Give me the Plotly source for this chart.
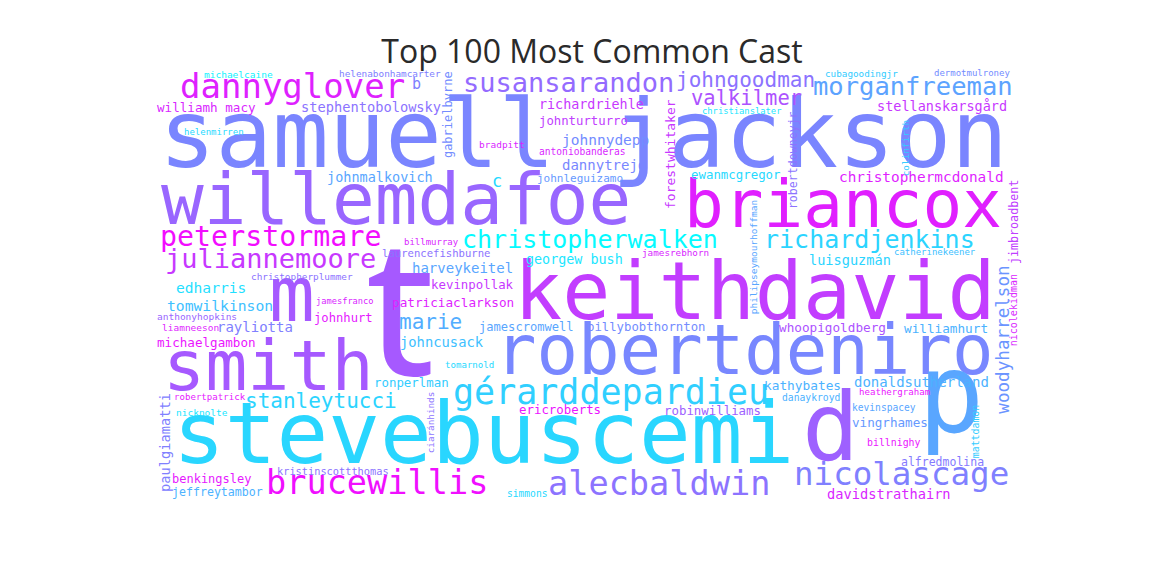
import plotly.graph_objects as go

# Top 100 cast names, as they appear in the word cloud
cast = [
    "samuell jackson", "willemdafoe", "briancox", "keithdavid", "robertdeniro",
    "stevebuscemi", "t", "m", "smith", "p", "d",
    "dannyglover", "susansarandon", "johngoodman", "morganfreeman", "valkilmer",
    "peterstormare", "juliannemoore", "christopherwalken", "richardjenkins",
    "gérarddepardieu", "brucewillis", "alecbaldwin", "nicolascage",
    "stanleytucci", "marie",
    "michaelcaine", "helenabonhamcarter", "cubagoodingjr", "dermotmulroney", "b",
    "williamh macy", "stephentobolowsky", "richardriehle", "johnturturro",
    "johnnydepp", "bradpitt", "antoniobanderas", "helenmirren", "dannytrejo",
    "johnmalkovich", "c", "johnleguizamo", "christianslater", "stellanskarsgård",
    "ewanmcgregor", "christophermcdonald", "billmurray", "laurencefishburne",
    "georgew bush", "jamesrebhorn", "luisguzmán", "catherinekeener",
    "harveykeitel", "christopherplummer", "edharris", "kevinpollak",
    "tomwilkinson", "jamesfranco", "patriciaclarkson", "anthonyhopkins",
    "liamneeson", "rayliotta", "johnhurt", "jamescromwell", "billybobthornton",
    "whoopigoldberg", "williamhurt", "michaelgambon", "johncusack",
    "ronperlman", "tomarnold", "kathybates", "donaldsutherland", "danaykroyd",
    "heathergraham", "kevinspacey", "robinwilliams", "ericroberts",
    "vingrhames", "billnighy", "robertpatrick", "nicknolte",
    "kristinscottthomas", "benkingsley", "jeffreytambor", "simmons",
    "alfredmolina", "davidstrathairn",
    "gabrielbyrne", "forestwhitaker", "robertdowneyjr", "colinfirth",
    "philipseymourhoffman", "jimbroadbent", "nicolekidman", "woodyharrelson",
    "mattdamon", "ciaránhinds", "paulgiamatti",
]

# where each name sits in the cloud: x, y (middle of lowercase), font px,
# colour along the "cool" colormap, vertical or not
placement = [
    (583, 142, 94, 0.48, 0), (396, 205, 71, 0.60, 0), (843, 210, 66, 0.88, 0),
    (755, 298, 80, 0.76, 0), (744, 355, 69, 0.47, 0), (483, 440, 86, 0.16, 0),
    (400, 324, 190, 0.65, 0), (292, 300, 76, 0.65, 0), (268, 371, 70, 0.65, 0),
    (951, 402, 110, 0.35, 0), (830, 434, 95, 0.62, 0),
    (292, 89, 34, 0.87, 0), (568, 85, 27, 0.58, 0), (745, 82, 21, 0.55, 0),
    (913, 88, 25.5, 0.36, 0), (746, 100, 20.5, 0.68, 0),
    (270, 239, 28.3, 0.95, 0), (270, 261, 27, 0.78, 0), (590, 241, 25, 0.02, 0),
    (869, 241, 25, 0.17, 0),
    (611, 395, 35, 0.19, 0), (377, 485, 33.6, 0.94, 0), (659, 486, 33.6, 0.55, 0),
    (901, 476, 32.5, 0.50, 0),
    (321, 403, 21, 0.17, 0), (430, 324, 21, 0.32, 0),
    (238, 75, 9.5, 0.05, 0), (390, 74, 9.4, 0.50, 0), (861, 74, 9.3, 0.20, 0),
    (972, 74, 9, 0.45, 0), (416, 85, 15, 0.50, 0),
    (206, 108, 12.6, 0.85, 0), (371, 108, 13.7, 0.55, 0), (591, 106, 13.4, 0.78, 0),
    (583, 122, 12.3, 0.75, 0),
    (605, 141, 14.5, 0.45, 0), (502, 145, 9.5, 0.85, 0), (582, 152, 9.6, 0.85, 0),
    (214, 133, 9, 0.15, 0), (604, 166, 14, 0.47, 0),
    (380, 178, 13.5, 0.35, 0), (497, 182, 17, 0.15, 0), (580, 179, 11, 0.40, 0),
    (741, 112, 8.8, 0.10, 0), (942, 107, 13.5, 0.78, 0),
    (736, 175, 12.4, 0.15, 0), (921, 178, 14.4, 0.88, 0), (431, 243, 9, 0.85, 0),
    (436, 254, 10.6, 0.55, 0),
    (574, 261, 13.4, 0.10, 0), (675, 253, 9.3, 0.85, 0), (850, 261, 13.6, 0.17, 0),
    (935, 253, 9, 0.25, 0),
    (462, 269, 14, 0.35, 0), (302, 277, 9.4, 0.55, 0), (211, 289, 14.6, 0.12, 0),
    (472, 285, 12.4, 0.78, 0),
    (220, 307, 14.7, 0.25, 0), (345, 302, 8.7, 0.85, 0), (453, 303, 12.7, 0.88, 0),
    (197, 317, 9.5, 0.60, 0),
    (190, 328, 9.5, 0.88, 0), (255, 328, 14, 0.50, 0), (343, 319, 12.2, 0.90, 0),
    (526, 328, 12.1, 0.35, 0), (646, 328, 12.3, 0.45, 0),
    (832, 328, 12.7, 0.68, 0), (946, 329, 12.7, 0.30, 0), (206, 343, 12.6, 0.92, 0),
    (442, 343, 13.8, 0.25, 0),
    (411, 383, 12.4, 0.20, 0), (469, 366, 9.1, 0.15, 0), (802, 386, 12.8, 0.30, 0),
    (921, 383, 14, 0.30, 0), (811, 398, 9.7, 0.30, 0),
    (895, 393, 9.1, 0.92, 0), (884, 408, 9.6, 0.35, 0), (712, 411, 12.4, 0.62, 0),
    (560, 410, 12.4, 0.92, 0),
    (890, 423, 12.6, 0.40, 0), (894, 443, 9.9, 0.92, 0), (210, 398, 9.1, 0.90, 0),
    (202, 413, 9.5, 0.10, 0),
    (333, 472, 10.3, 0.55, 0), (211, 480, 12, 0.90, 0), (217, 493, 11.6, 0.30, 0),
    (527, 494, 9.6, 0.15, 0),
    (942, 463, 11.5, 0.52, 0), (889, 495, 13.7, 0.85, 0),
    (449, 115, 12, 0.45, 1), (671, 154, 13, 0.78, 1), (794, 160, 11.6, 0.55, 1),
    (906, 148, 9.4, 0.20, 1),
    (754, 257, 9.5, 0.35, 1), (1015, 222, 11.7, 0.75, 1), (1014, 310, 10, 0.85, 1),
    (1004, 340, 17.6, 0.42, 1),
    (976, 431, 9.9, 0.20, 1), (431, 422, 9.3, 0.55, 1), (166, 442, 13.7, 0.50, 1),
]

# the big lone "t" reads closer to the original with a narrower crossbar
FACE = {"t": "Noto Sans"}
# how far the text box centre sits above the middle of the lowercase letters
LIFT = {"DejaVu Sans Mono": 0.076, "Noto Sans": 0.118}

# the page body has an 8px margin, so screen pixel p sits at p - 8 on the figure
OFFSET = 8


def cool(v):
    return "rgb(%d,%d,255)" % (round(255 * v), round(255 * (1 - v)))


fig = go.Figure()

for name, (x, y, size, tone, upright) in zip(cast, placement):
    face = FACE.get(name, "DejaVu Sans Mono")
    shift = LIFT[face] * size
    fig.add_annotation(
        x=x - shift if upright else x,
        y=y if upright else y - shift,
        xref="x", yref="y",
        text=name,
        showarrow=False,
        textangle=-90 if upright else 0,
        xanchor="center", yanchor="middle",
        font=dict(family=face, size=size, color=cool(tone)),
    )

fig.update_layout(
    width=1152, height=576,
    margin=dict(l=0, r=0, t=0, b=0),
    paper_bgcolor="white", plot_bgcolor="white",
    showlegend=False,
    title=dict(text="Top 100 Most Common Cast",
               x=(592 - OFFSET) / 1152, xanchor="center",
               y=1 - (52 - OFFSET) / 576, yanchor="middle", yref="container",
               font=dict(family="Open Sans", size=32, color="#2a2a2a")),
    xaxis=dict(range=[OFFSET, 1152 + OFFSET], visible=False, fixedrange=True),
    yaxis=dict(range=[576 + OFFSET, OFFSET], visible=False, fixedrange=True),
)

fig.write_html("out.html")
